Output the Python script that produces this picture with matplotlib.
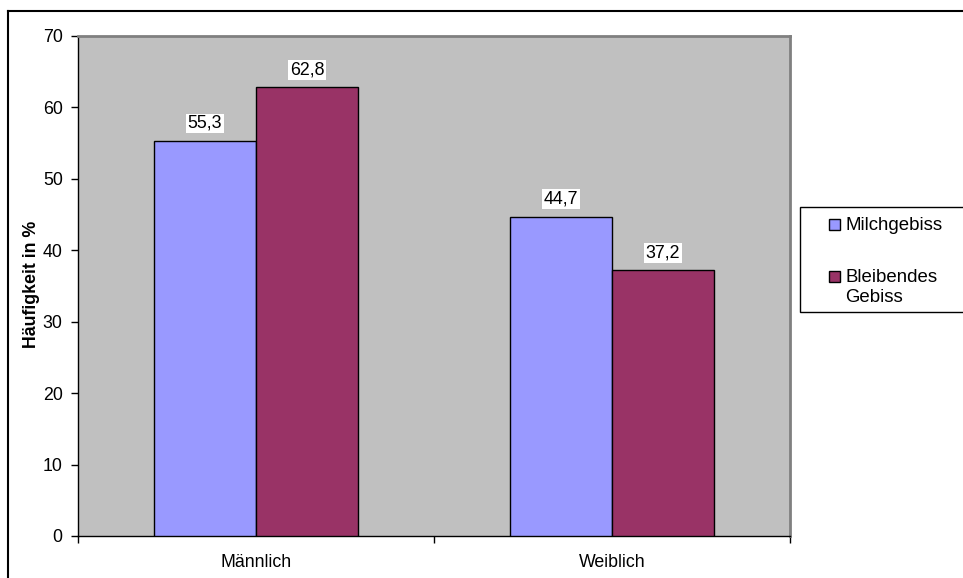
import matplotlib
matplotlib.use("Agg")
import matplotlib.pyplot as plt
import numpy as np
from matplotlib.patches import Rectangle
from matplotlib.lines import Line2D

categories = ["Männlich", "Weiblich"]
series_names = ["Milchgebiss", "Bleibendes\nGebiss"]
milch = [55.3, 44.7]
bleibend = [62.8, 37.2]
yticks = [0, 10, 20, 30, 40, 50, 60, 70]
ylabel = "Häufigkeit in %"

colors = ["#9999FF", "#993366"]
plt.rcParams['font.family'] = ['Liberation Sans', 'DejaVu Sans']
FS = 12.8

W, H = 963, 578
fig = plt.figure(figsize=(W/100, H/100), dpi=100)
ax = fig.add_axes([78/W, 1-536/H, (790-78)/W, (536-36)/H])
ax.set_facecolor("#C0C0C0")

x = np.arange(len(categories))
bw = 102/356
for vals, c, off in [(milch, colors[0], -bw/2), (bleibend, colors[1], bw/2)]:
    bars = ax.bar(x + off, vals, width=bw, color=c, edgecolor="black", linewidth=1.0, zorder=3)
    for b, v in zip(bars, vals):
        ax.annotate(f"{v:.1f}".replace(".", ","), (b.get_x()+b.get_width()/2, v),
                    xytext=(0, 6.5), textcoords="offset points", ha="center", va="bottom",
                    fontsize=FS, zorder=5,
                    bbox=dict(boxstyle="square,pad=0.08", fc="white", ec="none"))

ax.set_xlim(-0.5, 1.5)
ax.set_ylim(0, 70)
ax.set_yticks(yticks)
ax.set_yticklabels([str(t) for t in yticks], fontsize=FS)
ax.set_xticks([-0.5, 0.5, 1.5])
ax.set_xticklabels(["", "", ""])
ax.set_xticks(x, minor=True)
ax.set_xticklabels(categories, minor=True, fontsize=FS)
ax.tick_params(axis="x", which="minor", length=0, pad=13)
ax.tick_params(axis="x", which="major", length=5, direction="out", width=1)
ax.tick_params(axis="y", length=5, direction="out", width=1, pad=6)
for s in ["top", "right"]:
    ax.spines[s].set_color("#808080")
    ax.spines[s].set_linewidth(2.0)
for s in ["left", "bottom"]:
    ax.spines[s].set_color("black")
    ax.spines[s].set_linewidth(1.0)

fig.text(31/W, 1-284/H, ylabel, rotation=90, ha="center", va="center",
         fontsize=FS, fontweight="bold")

# outer chart frame
fig.add_artist(Line2D([8/W, 8/W], [1-11/H, 0], color="black", lw=1.5, transform=fig.transFigure))
fig.add_artist(Line2D([8/W, 1], [1-11/H, 1-11/H], color="black", lw=1.5, transform=fig.transFigure))

# legend (frame runs off the right edge as in the reference)
fig.add_artist(Rectangle((800/W, 1-312/H), 200/W, 105/H, transform=fig.transFigure,
                         fc="white", ec="black", lw=1.0))
entry_y = [224.5, 276.5]
for name, c, yy in zip(series_names, colors, entry_y):
    fig.add_artist(Rectangle((829/W, 1-(yy+5.5)/H), 11/W, 11/H, transform=fig.transFigure,
                             fc=c, ec="black", lw=1.0))
    fig.text(845/W, 1-(yy-8)/H, name, ha="left", va="top", fontsize=13.4, linespacing=1.25)

fig.savefig("out.png", dpi=100)
